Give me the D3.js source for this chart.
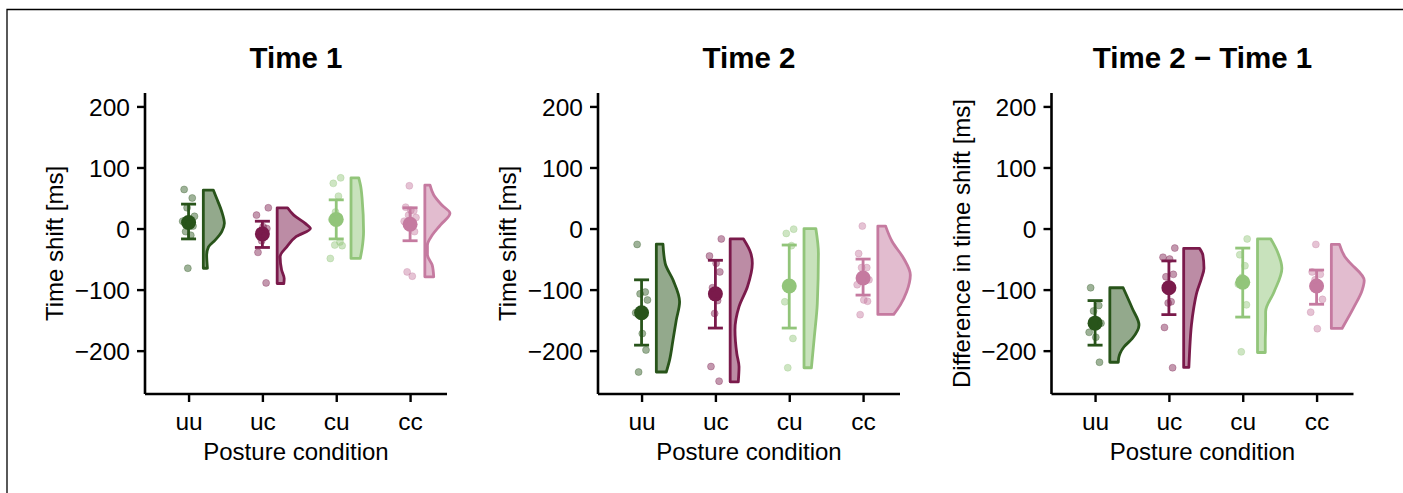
<!DOCTYPE html>
<html>
<head>
<meta charset="utf-8">
<script src="https://cdn.jsdelivr.net/npm/d3@7"></script>
<style>
  body { margin: 0; background: #fff; }
  svg { display: block; font-family: "Liberation Sans", Arial, sans-serif; }
</style>
</head>
<body>
<div id="graph"></div>
<script>
// conditions, colours, panel texts
var conds   = ["uu", "uc", "cu", "cc"]
var colors  = ["#28541a", "#7a1a4b", "#92c57a", "#c57aa0"]
var titles  = ["Time 1", "Time 2", "Time 2 \u2212 Time 1"]
var yLabels = ["Time shift [ms]", "Time shift [ms]", "Difference in time shift [ms]"]
var yTicks  = [-200, -100, 0, 100, 200]

// mean and error bar per panel, per condition
var means = [[10, -9, 15, 7], [-138, -107, -94, -81], [-155, -97, -88, -94]]
var errLo = [[-17, -31, -17, -20], [-191, -163, -163, -109], [-191, -141, -145, -124]]
var errHi = [[40, 12, 47, 34], [-84, -52, -27, -50], [-118, -53, -32, -68]]

// single subjects
var points1 = [
  [64, 50, 34, 20, 12, 8, 4, -5, -11, -65],
  [34, 22, 3, 0, -5, -12, -20, -39, -89],
  [83, 74, 53, 27, 15, -22, -27, -28, -49],
  [70, 35, 29, 22, 18, 12, 30, -5, -71, -78]
]
var points2 = [
  [-26, -104, -107, -117, -138, -172, -199, -235],
  [-17, -45, -57, -71, -97, -118, -139, -226, -250],
  [-1, -8, -28, -97, -120, -180, -228],
  [4, -41, -64, -64, -84, -92, -117, -119, -141]
]
var points3 = [
  [-97, -126, -135, -155, -170, -178, -219],
  [-32, -47, -50, -75, -79, -120, -122, -162, -228],
  [-17, -43, -61, -80, -91, -125, -202],
  [-26, -71, -75, -84, -116, -137, -164]
]

// half violin outlines: [value, density]
var violins1 = [
  [[63,.135],[49.5,.18],[27.5,.25],[8.5,.285],[-5,.25],[-19,.16],[-30,.07],[-43,.045],[-65,.055]],
  [[34,.14],[22,.225],[8.5,.38],[0,.45],[-13,.26],[-30,.13],[-46,.04],[-68,.06],[-82,.095],[-90,.09]],
  [[83,.105],[70,.13],[49.5,.15],[-5,.17],[-32.5,.15],[-49,.125]],
  [[71,.07],[55,.12],[38.5,.23],[25,.34],[5.7,.21],[-10.7,.1],[-27,.035],[-43,.035],[-60,.1],[-79,.12]]
]
var violins2 = [
  [[-25.6,.09],[-57,.12],[-84,.225],[-120,.315],[-150,.27],[-183,.225],[-215,.18],[-235,.135]],
  [[-17,.18],[-40.5,.28],[-57,.30],[-95,.235],[-128,.12],[-166,.065],[-205,.09],[-226.5,.12],[-251,.11]],
  [[0,.16],[-40.6,.195],[-122.6,.18],[-177,.14],[-228,.1]],
  [[4,.105],[-21.6,.195],[-49,.35],[-76,.44],[-103.6,.39],[-125,.305],[-140.7,.215]]
]
var violins3 = [
  [[-97,.18],[-131,.305],[-158,.395],[-180,.305],[-194,.19],[-204,.14],[-212,.12],[-219,.115]],
  [[-32.5,.215],[-43.4,.26],[-65,.275],[-82,.24],[-103.6,.18],[-131,.135],[-158,.105],[-202,.08],[-227.5,.07]],
  [[-17,.18],[-38,.27],[-65,.33],[-103.6,.225],[-136,.11],[-161,.11],[-183,.105],[-203,.105]],
  [[-26,.11],[-49,.2],[-57,.26],[-85,.445],[-100,.42],[-130,.3],[-163.6,.145]]
]

var allPoints  = [points1, points2, points3]
var allViolins = [violins1, violins2, violins3]

// layout
var W = 1403, H = 493
var panelLeft = [145, 598, 1051.5]
var panelW = 302
var plotTop = 93, plotBottom = 394
var jit = [-0.06, 0.05, -0.02, 0.08, -0.08, 0.01, 0.06, -0.04, 0.03, -0.01]

var svg = d3.select('#graph').append('svg')
  .attr('width', W)
  .attr('height', H)

// figure frame (top + left edge)
svg.append('path')
  .attr('d', 'M7,' + H + 'V9.5H' + W)
  .attr('fill', 'none')
  .attr('stroke', '#000')
  .attr('stroke-width', 1.3)

var y = d3.scaleLinear().domain([-271, 222]).range([plotBottom, plotTop])

panelLeft.forEach(function(left, p) {
  var x = d3.scaleLinear().domain([-0.59, 3.5]).range([left, left + panelW])
  var g = svg.append('g')

  // axes
  var yAxis = g.append('g')
    .attr('transform', 'translate(' + left + ',0)')
    .call(d3.axisLeft(y).tickValues(yTicks).tickSize(8).tickPadding(7)
      .tickFormat(function(d) { return d < 0 ? '\u2212' + Math.abs(d) : d }))
  var xAxis = g.append('g')
    .attr('transform', 'translate(0,' + plotBottom + ')')
    .call(d3.axisBottom(x).tickValues([0, 1, 2, 3]).tickSize(8).tickPadding(10)
      .tickFormat(function(d) { return conds[d] }))

  yAxis.select('.domain').attr('d', 'M0,' + plotBottom + 'V' + plotTop)
  xAxis.select('.domain').attr('d', 'M' + left + ',0H' + (left + panelW))
  ;[yAxis, xAxis].forEach(function(a) {
    a.select('.domain').attr('stroke-width', 2.6).attr('stroke', '#000')
    a.selectAll('.tick line').attr('stroke-width', 2.4).attr('stroke', '#000')
    a.selectAll('.tick text').attr('font-size', '24.5px').attr('fill', '#000')
      .attr('font-family', '"Liberation Sans", Arial, sans-serif')
  })
  yAxis.selectAll('.tick text').attr('dy', '0.35em')
  xAxis.selectAll('.tick text').attr('dy', '0.72em')

  // labels
  g.append('text')
    .attr('x', left + panelW / 2)
    .attr('y', 68)
    .attr('text-anchor', 'middle')
    .attr('font-size', '29.5px')
    .attr('font-weight', 'bold')
    .text(titles[p])

  g.append('text')
    .attr('x', left + panelW / 2)
    .attr('y', 460)
    .attr('text-anchor', 'middle')
    .attr('font-size', '24px')
    .text('Posture condition')

  g.append('text')
    .attr('transform', 'translate(' + (left - 82) + ',' + ((plotTop + plotBottom) / 2) + ') rotate(-90)')
    .attr('text-anchor', 'middle')
    .attr('font-size', '24px')
    .text(yLabels[p])

  var line = d3.line()
    .x(function(d) { return d[0] })
    .y(function(d) { return d[1] })
    .curve(d3.curveMonotoneY)

  conds.forEach(function(c, i) {
    var col = colors[i]
    var base = x(i + 0.2)
    var prof = allViolins[p][i]

    // half violin
    var pts = prof.map(function(d) { return [base + x(d[1]) - x(0), y(d[0])] })
    var side = line(pts).replace(/^M/, 'L')
    var d = 'M' + base + ',' + y(prof[0][0]) + side +
      'L' + base + ',' + y(prof[prof.length - 1][0]) + 'Z'
    g.append('path')
      .attr('d', d)
      .attr('fill', col)
      .attr('fill-opacity', 0.5)
      .attr('stroke', col)
      .attr('stroke-width', 2.8)
      .attr('stroke-linejoin', 'round')

    // error bar
    var cx = x(i)
    var eb = g.append('g').attr('stroke', col).attr('stroke-width', 2.8)
    eb.append('line').attr('x1', cx).attr('x2', cx).attr('y1', y(errHi[p][i])).attr('y2', y(errLo[p][i]))
    eb.append('line').attr('x1', cx - 7.5).attr('x2', cx + 7.5).attr('y1', y(errHi[p][i])).attr('y2', y(errHi[p][i]))
    eb.append('line').attr('x1', cx - 7.5).attr('x2', cx + 7.5).attr('y1', y(errLo[p][i])).attr('y2', y(errLo[p][i]))

    // mean
    g.append('circle')
      .attr('cx', cx)
      .attr('cy', y(means[p][i]))
      .attr('r', 7.5)
      .attr('fill', col)

    // single subjects
    g.selectAll(null)
      .data(allPoints[p][i])
      .enter().append('circle')
      .attr('cx', function(v, k) { return x(i + jit[(k + i * 3) % jit.length]) })
      .attr('cy', function(v) { return y(v) })
      .attr('r', 3.5)
      .attr('fill', col)
      .attr('fill-opacity', 0.45)
      .attr('stroke', col)
      .attr('stroke-opacity', 0.3)
      .attr('stroke-width', 1)
  })
})
</script>
</body>
</html>
